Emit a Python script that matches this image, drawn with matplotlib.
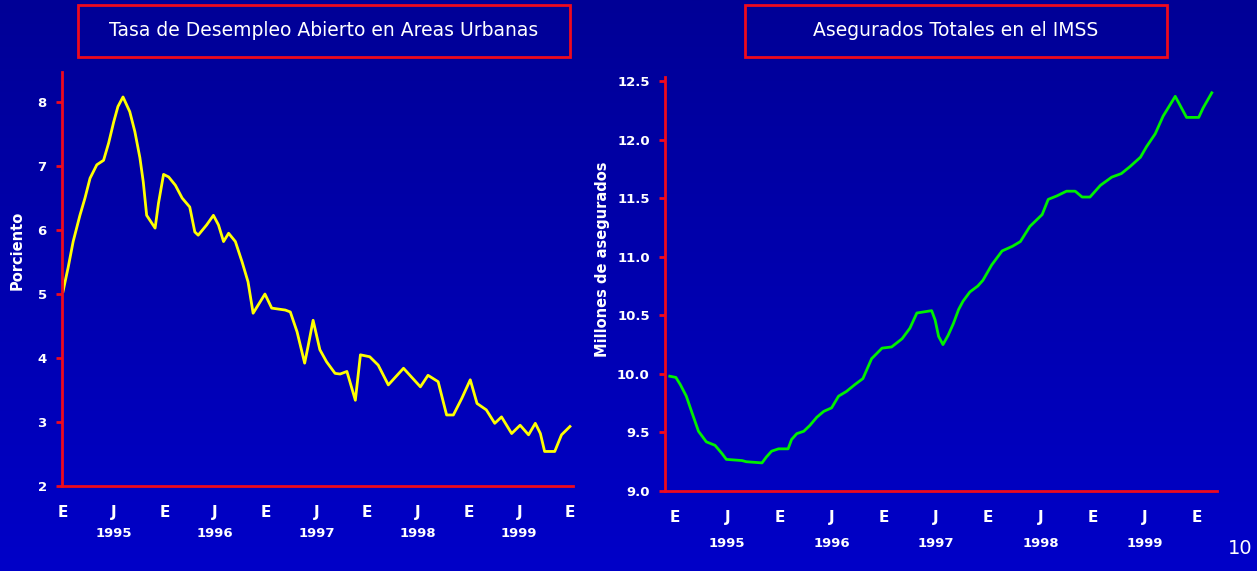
import numpy as np
import matplotlib
matplotlib.use("Agg")
import matplotlib.pyplot as plt
from matplotlib.patches import Rectangle

# Tasa de desempleo abierto (meses desde enero 1995, porciento)
desempleo_mes = [0.0, 0.6, 1.2, 2.0, 2.6, 3.2, 4.0, 4.8, 5.4, 6.0, 6.5, 7.1, 7.9, 8.5,
                 9.1, 9.5, 9.9, 10.9, 11.3, 11.9, 12.5, 13.3, 14.1, 15.0, 15.6, 16.0,
                 17.0, 17.8, 18.4, 19.0, 19.6, 20.4, 21.2, 21.9, 22.5, 23.9, 24.7, 26.3,
                 26.9, 27.7, 28.6, 29.0, 29.6, 30.4, 31.2, 32.2, 32.8, 33.6, 34.6, 35.2,
                 36.3, 37.3, 38.5, 40.3, 42.3, 43.2, 44.4, 45.4, 46.2, 47.2, 48.2, 49.0,
                 50.1, 51.1, 51.9, 53.1, 54.1, 55.1, 55.9, 56.5, 57.0, 58.2, 59.0, 60.0]
desempleo_tasa = [5.04, 5.41, 5.82, 6.23, 6.50, 6.81, 7.02, 7.09, 7.36, 7.69, 7.93, 8.08,
                  7.85, 7.54, 7.13, 6.75, 6.23, 6.03, 6.42, 6.87, 6.83, 6.70, 6.50, 6.36,
                  5.97, 5.92, 6.08, 6.23, 6.08, 5.82, 5.95, 5.82, 5.50, 5.19, 4.70, 5.00,
                  4.78, 4.75, 4.72, 4.41, 3.92, 4.18, 4.59, 4.13, 3.94, 3.76, 3.75, 3.79,
                  3.34, 4.05, 4.02, 3.89, 3.58, 3.84, 3.55, 3.73, 3.63, 3.11, 3.11, 3.37,
                  3.66, 3.29, 3.19, 2.98, 3.08, 2.82, 2.95, 2.80, 2.98, 2.82, 2.54, 2.54,
                  2.80, 2.93]

# Asegurados totales en el IMSS (meses desde enero 1995, millones)
imss_mes = [-0.6, 0.1, 0.6, 1.3, 1.9, 2.7, 3.6, 4.6, 5.4, 5.9, 7.7, 8.2, 10.0, 10.5,
            11.1, 11.9, 13.0, 13.4, 14.0, 14.8, 15.5, 16.3, 17.1, 18.0, 18.8, 19.7,
            20.7, 21.6, 22.6, 23.8, 24.9, 26.1, 27.0, 27.8, 29.5, 29.9, 30.3, 30.8,
            31.4, 32.0, 32.6, 33.1, 33.9, 34.8, 35.4, 36.4, 37.6, 38.8, 39.7, 40.8,
            42.2, 42.9, 43.9, 45.0, 46.0, 46.8, 47.7, 48.9, 50.2, 51.3, 52.3, 53.5,
            54.2, 55.2, 56.1, 57.5, 58.8, 60.2, 60.7, 61.7]
imss_asegurados = [9.98, 9.97, 9.91, 9.81, 9.68, 9.51, 9.42, 9.39, 9.32, 9.27, 9.26, 9.25,
                   9.24, 9.29, 9.34, 9.36, 9.36, 9.44, 9.49, 9.51, 9.56, 9.63, 9.68, 9.71,
                   9.81, 9.85, 9.91, 9.96, 10.13, 10.22, 10.23, 10.30, 10.39, 10.52, 10.54,
                   10.46, 10.32, 10.25, 10.33, 10.43, 10.55, 10.62, 10.70, 10.75, 10.80,
                   10.93, 11.05, 11.09, 11.13, 11.26, 11.36, 11.49, 11.52, 11.56, 11.56,
                   11.51, 11.51, 11.61, 11.68, 11.71, 11.77, 11.85, 11.94, 12.05, 12.20,
                   12.37, 12.19, 12.19, 12.27, 12.40]

meses_ticks = list(range(0, 61, 6))
meses_etiquetas = ["E", "J", "E", "J", "E", "J", "E", "J", "E", "J", "E"]
anios = ["1995", "1996", "1997", "1998", "1999"]
anios_mes = [6, 18, 30, 42, 54]

desempleo_yticks = [2, 3, 4, 5, 6, 7, 8]
imss_yticks = [9.0, 9.5, 10.0, 10.5, 11.0, 11.5, 12.0, 12.5]

RED = "#ee0a1e"
W, H = 1257, 571
fig = plt.figure(figsize=(W / 100, H / 100), dpi=100)

# degradado azul de fondo
bg = fig.add_axes([0, 0, 1, 1], zorder=-10)
grad = np.linspace(0, 1, 256).reshape(-1, 1)
bg.imshow(grad, aspect="auto", extent=[0, 1, 0, 1],
          cmap=matplotlib.colors.LinearSegmentedColormap.from_list("bg", ["#0000c8", "#000096"]),
          origin="lower")
bg.axis("off")


def fig_box(x0, y0, x1, y1):
    return [x0 / W, 1 - y1 / H, (x1 - x0) / W, (y1 - y0) / H]


def style_axis(ax, yticks, yfmt, year_y):
    ax.set_facecolor("none")
    for s in ["top", "right"]:
        ax.spines[s].set_visible(False)
    for s in ["left", "bottom"]:
        ax.spines[s].set_color(RED)
        ax.spines[s].set_linewidth(2.0)
    ax.set_yticks(yticks)
    ax.set_yticklabels([yfmt.format(v) for v in yticks])
    ax.tick_params(axis="y", colors=RED, length=4, width=2, labelcolor="white",
                   labelsize=9.5, pad=7)
    ax.tick_params(axis="x", length=0, labelcolor="white", labelsize=11, pad=14)
    ax.set_xticks(meses_ticks)
    ax.set_xticklabels(meses_etiquetas)
    for lab in ax.get_xticklabels() + ax.get_yticklabels():
        lab.set_fontweight("bold")
    for m, a in zip(anios_mes, anios):
        ax.text(m, year_y, a, transform=ax.get_xaxis_transform(), ha="center", va="top",
                color="white", fontsize=9.5, fontweight="bold")


# Panel izquierdo
ax1 = fig.add_axes(fig_box(62, 72, 573, 486))
ax1.plot(desempleo_mes, desempleo_tasa, color="#ffff00", lw=2.0)
ax1.set_xlim(-0.12, 60.36)
ax1.set_ylim(2, 8.47)
style_axis(ax1, desempleo_yticks, "{:d}", -0.10)
ax1.set_ylabel("Porciento", color="white", fontsize=10.5, fontweight="bold")
ax1.yaxis.set_label_coords(-0.074, 0.57)

# Panel derecho
ax2 = fig.add_axes(fig_box(665, 77, 1217, 491))
ax2.plot(imss_mes, imss_asegurados, color="#00f000", lw=2.0)
ax2.set_xlim(-1.15, 62.3)
ax2.set_ylim(9.0, 12.535)
style_axis(ax2, imss_yticks, "{:.1f}", -0.11)
ax2.set_ylabel("Millones de asegurados", color="white", fontsize=10.5, fontweight="bold")
ax2.yaxis.set_label_coords(-0.1, 0.56)

# títulos en recuadros rojos
for (x0, x1), title in [((78, 570), "Tasa de Desempleo Abierto en Areas Urbanas"),
                        ((745, 1167), "Asegurados Totales en el IMSS")]:
    fig.add_artist(Rectangle((x0 / W, 1 - 57 / H), (x1 - x0) / W, 52 / H,
                             transform=fig.transFigure, fill=False, edgecolor=RED, lw=2))
    fig.text((x0 + x1) / 2 / W, 1 - 31 / H, title, ha="center", va="center",
             color="white", fontsize=13.5)

fig.text(1240 / W, 1 - 548 / H, "10", ha="center", va="center", color="white", fontsize=14)

fig.savefig("out.png", dpi=100)
